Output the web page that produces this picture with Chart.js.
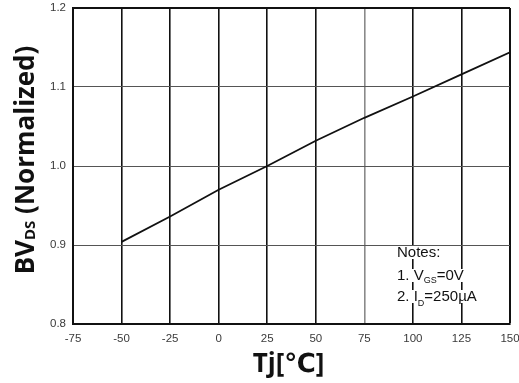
<!DOCTYPE html>
<html>
<head>
<meta charset="utf-8">
<script src="https://cdn.jsdelivr.net/npm/chart.js@4.4.0/dist/chart.umd.min.js"></script>
<style>
    html, body { margin: 0; padding: 0; background: #fff; }
    #wrap { width: 519px; height: 383px; position: relative; }
</style>
</head>
<body>
<div id="wrap"><canvas id="bvChart"></canvas></div>
<script>
// Tj in degrees C vs normalized BVDS
const tempC = [-50, -25, 0, 25, 50, 75, 100, 125, 150];
const bvNorm = [0.904, 0.936, 0.970, 1.000, 1.032, 1.061, 1.088, 1.116, 1.144];

const xTicks = [-75, -50, -25, 0, 25, 50, 75, 100, 125, 150];
const yTicks = [0.8, 0.9, 1.0, 1.1, 1.2];

const yTitle = ["BV", "DS", " (Normalized)"];
const xTitle = "Tj[℃]";
const notes = [
    ["Notes:"],
    ["1. V", "GS", "=0V"],
    ["2. I", "D", "=250µA"]
];

const boldFont = "'Open Sans', 'DejaVu Sans', sans-serif";
const plainFont = "'Liberation Sans', Arial, sans-serif";

// draws the axis titles and the notes box (they have subscripts)
const textPlugin = {
    id: "textPlugin",
    afterDraw(chart) {
        const c = chart.ctx;
        const area = chart.chartArea;
        c.save();
        c.fillStyle = "#111";
        c.textBaseline = "alphabetic";

        // y title, rotated
        c.save();
        c.translate(34, (area.top + area.bottom) / 2 - 6);
        c.rotate(-Math.PI / 2);
        const big = "bold 26px " + boldFont;
        const small = "bold 15px " + boldFont;
        c.font = big;
        const w0 = c.measureText(yTitle[0]).width;
        const w2 = c.measureText(yTitle[2]).width;
        c.font = small;
        const w1 = c.measureText(yTitle[1]).width;
        let x = -(w0 + w1 + w2) / 2;
        c.font = big;
        c.fillText(yTitle[0], x, 0);
        x += w0;
        c.font = small;
        c.fillText(yTitle[1], x, 1);
        x += w1;
        c.font = big;
        c.fillText(yTitle[2], x, 0);
        c.restore();

        // x title
        c.font = "bold 26px " + boldFont;
        c.textAlign = "center";
        c.fillText(xTitle, (area.left + area.right) / 2 - 3, 372);
        c.textAlign = "left";

        // notes
        const nx = 397;
        const baselines = [257, 280, 301];
        const subDrop = [0, 3, 5];
        notes.forEach((parts, i) => {
            const by = baselines[i];
            let px = nx;
            const widths = parts.map((p, j) => {
                c.font = (j === 1 ? "9px " : "15px ") + plainFont;
                return c.measureText(p).width;
            });
            const total = widths.reduce((a, b) => a + b, 0);
            c.fillStyle = "#fff";
            c.fillRect(nx - 1, by - 11, total + 2, 13);
            c.fillStyle = "#111";
            parts.forEach((p, j) => {
                c.font = (j === 1 ? "9px " : "15px ") + plainFont;
                c.fillText(p, px, by + (j === 1 ? subDrop[i] : 0));
                px += widths[j];
            });
        });
        c.restore();
    }
};

const ctx = document.getElementById("bvChart").getContext("2d");
const bvChart = new Chart(ctx, {
    type: "line",
    data: {
        datasets: [{
            data: tempC.map((t, i) => ({ x: t, y: bvNorm[i] })),
            borderColor: "#111",
            borderWidth: 1.8,
            pointRadius: 0,
            tension: 0,
            fill: false
        }]
    },
    options: {
        responsive: true,
        maintainAspectRatio: false,
        animation: false,
        layout: { padding: { top: 8, right: 9, left: 0, bottom: 0 } },
        plugins: {
            legend: { display: false },
            tooltip: { enabled: false }
        },
        scales: {
            x: {
                type: "linear",
                min: xTicks[0],
                max: xTicks[xTicks.length - 1],
                afterBuildTicks: scale => {
                    scale.ticks = xTicks.map(v => ({ value: v }));
                },
                afterFit: scale => {
                    scale.height = 59;
                    scale.paddingLeft = 0;
                    scale.paddingRight = 0;
                },
                border: { color: "#111", width: 2 },
                grid: {
                    drawTicks: false,
                    color: c => c.tick && c.tick.value === 75 ? "#8a8a8a" : "#111",
                    lineWidth: c => c.tick && c.tick.value === 150 ? 2 : 1.6
                },
                ticks: {
                    padding: 8,
                    color: "#3a3a3a",
                    font: { family: plainFont, size: 11.5 },
                    maxRotation: 0,
                    callback: v => String(v)
                }
            },
            y: {
                min: yTicks[0],
                max: yTicks[yTicks.length - 1],
                afterBuildTicks: scale => {
                    scale.ticks = yTicks.map(v => ({ value: v }));
                },
                afterFit: scale => {
                    scale.width = 73;
                    scale.paddingTop = 0;
                    scale.paddingBottom = 0;
                },
                border: { color: "#111", width: 2 },
                grid: {
                    drawTicks: false,
                    color: c => c.tick && c.tick.value === 1.2 ? "#111" : "#555",
                    lineWidth: c => c.tick && c.tick.value === 1.2 ? 2 : 1
                },
                ticks: {
                    padding: 7,
                    color: "#3a3a3a",
                    font: { family: plainFont, size: 11.5 },
                    callback: v => v.toFixed(1)
                }
            }
        }
    },
    plugins: [textPlugin]
});
</script>
</body>
</html>
